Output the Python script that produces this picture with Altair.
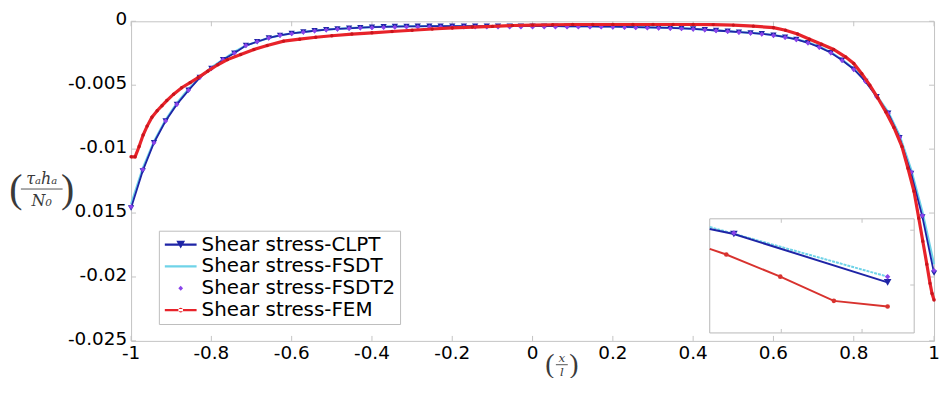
import altair as alt
import pandas as pd

# ---------------- data ----------------
x_main = [-1.0, -0.971, -0.943, -0.914, -0.886, -0.857, -0.829, -0.8, -0.771, -0.743,
          -0.714, -0.686, -0.657, -0.629, -0.6, -0.571, -0.543, -0.514, -0.486, -0.457,
          -0.429, -0.4, -0.371, -0.343, -0.314, -0.286, -0.257, -0.229, -0.2, -0.171,
          -0.143, -0.114, -0.086, -0.057, -0.029, 0.0, 0.029, 0.057, 0.086, 0.114,
          0.143, 0.171, 0.2, 0.229, 0.257, 0.286, 0.314, 0.343, 0.371, 0.4,
          0.429, 0.457, 0.486, 0.514, 0.543, 0.571, 0.6, 0.629, 0.657, 0.686,
          0.714, 0.743, 0.771, 0.8, 0.829, 0.857, 0.886, 0.914, 0.943, 0.971, 1.0]

clpt = [-0.0146, -0.0117, -0.0095, -0.0078, -0.0065, -0.0054, -0.0044, -0.0037, -0.0030, -0.0025,
        -0.0019, -0.0016, -0.0013, -0.0011, -0.00095, -0.00084, -0.00074, -0.00066, -0.0006, -0.00055,
        -0.0005, -0.00046, -0.00043, -0.00041, -0.0004, -0.00039, -0.00038, -0.00038, -0.00038, -0.00038,
        -0.00038, -0.00038, -0.00038, -0.00038, -0.00038, -0.00038, -0.00038, -0.00038, -0.00039, -0.0004,
        -0.0004, -0.00041, -0.00042, -0.00044, -0.00046, -0.00048, -0.0005, -0.00052, -0.00055, -0.0006,
        -0.00066, -0.00072, -0.00078, -0.00085, -0.00091, -0.00098, -0.00109, -0.00124, -0.00142, -0.00168,
        -0.00202, -0.00246, -0.00305, -0.00375, -0.0047, -0.0059, -0.0072, -0.0091, -0.0119, -0.0153, -0.0197]

fsdt = [-0.0143, -0.0115, -0.0094, -0.0077, -0.0064, -0.0053, -0.0044, -0.0036, -0.0030, -0.0024,
        -0.0019, -0.0016, -0.0013, -0.0011, -0.00094, -0.00083, -0.00073, -0.00065, -0.00059, -0.00054,
        -0.00049, -0.00045, -0.00042, -0.0004, -0.00039, -0.00038, -0.00037, -0.00037, -0.00037, -0.00037,
        -0.00037, -0.00037, -0.00037, -0.00037, -0.00037, -0.00037, -0.00037, -0.00037, -0.00038, -0.00039,
        -0.00039, -0.0004, -0.00041, -0.00043, -0.00045, -0.00047, -0.00049, -0.00051, -0.00054, -0.00059,
        -0.00065, -0.00071, -0.00077, -0.00084, -0.0009, -0.00097, -0.00107, -0.00122, -0.0014, -0.00165,
        -0.00198, -0.00241, -0.003, -0.0037, -0.0046, -0.0058, -0.0071, -0.0089, -0.0116, -0.0149, -0.0190]

fsdt2 = [-0.0145, -0.0116, -0.0095, -0.0078, -0.0065, -0.0054, -0.0044, -0.0037, -0.0030, -0.0025,
         -0.0019, -0.0016, -0.0013, -0.0011, -0.00097, -0.00086, -0.00076, -0.00068, -0.00062, -0.00057,
         -0.00053, -0.0005, -0.00048, -0.00046, -0.00045, -0.00044, -0.00044, -0.00044, -0.00044, -0.00044,
         -0.00044, -0.00044, -0.00044, -0.00044, -0.00044, -0.00044, -0.00044, -0.00044, -0.00044, -0.00044,
         -0.00044, -0.00045, -0.00046, -0.00048, -0.0005, -0.00052, -0.00054, -0.00056, -0.00059, -0.00063,
         -0.00068, -0.00074, -0.0008, -0.00087, -0.00094, -0.00101, -0.00112, -0.00127, -0.00145, -0.0017,
         -0.00204, -0.00248, -0.00307, -0.00378, -0.0047, -0.0059, -0.0072, -0.0091, -0.0118, -0.0152, -0.0195]

fem_x = [-1.0, -0.99, -0.98, -0.97, -0.96, -0.948, -0.935, -0.923, -0.911, -0.894,
         -0.874, -0.853, -0.833, -0.809, -0.784, -0.76, -0.727, -0.694, -0.661, -0.62,
         -0.58, -0.54, -0.5, -0.45, -0.4, -0.35, -0.3, -0.25, -0.2, -0.15,
         -0.1, -0.05, 0.0, 0.05, 0.1, 0.15, 0.2, 0.25, 0.3, 0.35,
         0.4, 0.45, 0.5, 0.55, 0.6, 0.63, 0.66, 0.69, 0.72, 0.75,
         0.78, 0.8, 0.82, 0.84, 0.86, 0.88, 0.9, 0.92, 0.935, 0.95,
         0.962, 0.972, 0.982, 0.99, 0.995, 1.0]
fem_y = [-0.0106, -0.0106, -0.0098, -0.0089, -0.0082, -0.0075, -0.0070, -0.0066, -0.0062, -0.0057,
         -0.0052, -0.0048, -0.0044, -0.0039, -0.0034, -0.0030, -0.0026, -0.0022, -0.0019, -0.00155,
         -0.0014, -0.00125, -0.00113, -0.001, -0.0009, -0.0008, -0.0007, -0.0006, -0.00052, -0.00045,
         -0.0004, -0.00033, -0.0003, -0.00027, -0.00025, -0.00025, -0.00025, -0.00025, -0.00025, -0.00025,
         -0.00025, -0.00026, -0.0003, -0.00038, -0.0005, -0.0007, -0.001, -0.0014, -0.0018, -0.0022,
         -0.0028, -0.0033, -0.0041, -0.005, -0.006, -0.0071, -0.0083, -0.0098, -0.0115, -0.0133,
         -0.0154, -0.0172, -0.019, -0.0205, -0.0213, -0.0218]

x_ticks = [-1.0, -0.8, -0.6, -0.4, -0.2, 0.0, 0.2, 0.4, 0.6, 0.8, 1.0]
x_tick_labels = ["-1", "-0.8", "-0.6", "-0.4", "-0.2", "0", "0.2", "0.4", "0.6", "0.8", "1"]
y_ticks = [0.0, -0.005, -0.01, -0.015, -0.02, -0.025]
y_tick_labels = ["0", "-0.005", "-0.01", "0.015", "-0.02", "-0.025"]

series_names = ["Shear stress-CLPT", "Shear stress-FSDT", "Shear stress-FSDT2", "Shear stress-FEM"]
series_colors = ["#1e24a6", "#6fd3e8", "#8a44ea", "#e8232a"]
legend_paths = [
    "M-1,-0.14H3V0.14H-1Z M0.45,-0.5L1.55,-0.5L1,0.5Z",
    "M-1,-0.14H3V0.14H-1Z",
    "M1,-0.32L1.3,0L1,0.32L0.7,0Z",
    "M-1,-0.14H3V0.14H-1Z M0.7,0A0.3,0.3 0 1,0 1.3,0A0.3,0.3 0 1,0 0.7,0Z",
]

# inset (zoomed detail), in its own unit box
inset_clpt_x = [0.0, 0.118, 0.870]
inset_clpt_y = [0.910, 0.867, 0.443]
inset_fsdt_x = [0.0, 0.870]
inset_fsdt_y = [0.928, 0.493]
inset_fsdt2_x = [0.118, 0.870]
inset_fsdt2_y = [0.876, 0.493]
inset_fem_x = [0.0, 0.081, 0.345, 0.607, 0.870]
inset_fem_y = [0.737, 0.687, 0.493, 0.281, 0.232]
inset_xticks = [0.35, 0.745]
inset_yticks = [0.42, 0.9]

# ---------------- chart ----------------
W, H = 809, 322
FONT = "DejaVu Sans"
C_CLPT, C_FSDT, C_FSDT2, C_FEM = series_colors
FRAME = "#c4c4c4"

xs = alt.Scale(domain=[-1, 1], nice=False, zero=False)
ys = alt.Scale(domain=[-0.025, 0], nice=False, zero=False)

df_clpt = pd.DataFrame({"x": x_main, "y": clpt})
df_fsdt = pd.DataFrame({"x": x_main, "y": fsdt})
df_fsdt2 = pd.DataFrame({"x": x_main, "y": fsdt2})
df_fem = pd.DataFrame({"x": fem_x, "y": fem_y})

X = alt.X("x:Q", scale=xs, axis=None)
Y = alt.Y("y:Q", scale=ys, axis=None)

fsdt_line = alt.Chart(df_fsdt).mark_line(color=C_FSDT, strokeWidth=2.2).encode(x=X, y=Y)
clpt_line = alt.Chart(df_clpt).mark_line(color=C_CLPT, strokeWidth=1.8).encode(x=X, y=Y)
clpt_pts = alt.Chart(df_clpt).mark_point(shape="triangle-down", filled=True, size=40,
                                         color=C_CLPT, opacity=1).encode(x=X, y=Y)
fsdt2_pts = alt.Chart(df_fsdt2).mark_point(shape="diamond", filled=True, size=26,
                                           color=C_FSDT2, opacity=1).encode(x=X, y=Y)
fem_line = alt.Chart(df_fem).mark_line(color=C_FEM, strokeWidth=3.2).encode(x=X, y=Y)
fem_pts = alt.Chart(df_fem).mark_point(shape="circle", filled=True, size=12,
                                       color="#c8141c", opacity=1).encode(x=X, y=Y)

# tick marks (inward) and tick labels, placed through the scales
df_xt = pd.DataFrame({"t": x_ticks, "lab": x_tick_labels})
df_yt = pd.DataFrame({"t": y_ticks, "lab": y_tick_labels})
XT = alt.X("t:Q", scale=xs, axis=None)
YT = alt.Y("t:Q", scale=ys, axis=None)
tk = dict(color=FRAME, strokeWidth=1)
ticks = [
    alt.Chart(df_xt).mark_rule(**tk).encode(x=XT, y=alt.value(H), y2=alt.value(H - 5)),
    alt.Chart(df_xt).mark_rule(**tk).encode(x=XT, y=alt.value(0), y2=alt.value(5)),
    alt.Chart(df_yt).mark_rule(**tk).encode(y=YT, x=alt.value(0), x2=alt.value(5)),
    alt.Chart(df_yt).mark_rule(**tk).encode(y=YT, x=alt.value(W), x2=alt.value(W - 5)),
]
tick_labels = [
    alt.Chart(df_xt).mark_text(font=FONT, fontSize=18.5, color="#000", align="center",
                               baseline="middle").encode(x=XT, y=alt.value(H + 12), text="lab:N"),
    alt.Chart(df_yt).mark_text(font=FONT, fontSize=18.5, color="#000", align="right",
                               baseline="middle", dy=-2).encode(y=YT, x=alt.value(-4), text="lab:N"),
]

# legend (entries from explicit scale domain; no marks drawn)
leg = alt.Legend(title=None, orient="none", legendX=28, legendY=211, labelFont=FONT,
                 labelFontSize=20, labelColor="#000", labelLimit=400, symbolSize=256,
                 symbolStrokeWidth=0, labelOffset=19, padding=4, rowPadding=2,
                 fillColor="white", strokeColor="#bdbdbd")
legend_layer = alt.Chart(pd.DataFrame({"series": series_names})).transform_filter("false").mark_point(
    filled=True, opacity=1).encode(
    color=alt.Color("series:N", scale=alt.Scale(domain=series_names, range=series_colors), legend=leg),
    shape=alt.Shape("series:N", scale=alt.Scale(domain=series_names, range=legend_paths), legend=leg),
)

# axis titles drawn as small formula pieces
one = pd.DataFrame({"k": [0]})


def txt(s, px, py, size, font="DejaVu Serif", style="italic", color="#3a3a3a"):
    return alt.Chart(one).mark_text(text=s, font=font, fontSize=size, fontStyle=style, color=color,
                                    align="center", baseline="middle").encode(x=alt.value(px), y=alt.value(py))


ytitle = [
    txt("(", -116, 170, 40, font="Liberation Serif", style="normal"),
    txt(")", -64, 170, 40, font="Liberation Serif", style="normal"),
    txt("τₐhₐ", -90, 159, 16),
    txt("N₀", -90, 181, 16),
    alt.Chart(one).mark_rule(color="#555", strokeWidth=1).encode(
        x=alt.value(-111), x2=alt.value(-69), y=alt.value(169)),
]
xtitle = [
    txt("(", 422, 346, 28, font="Liberation Serif", style="normal"),
    txt(")", 446, 346, 28, font="Liberation Serif", style="normal"),
    txt("x", 434, 339, 12),
    txt("l", 434, 353, 12),
    alt.Chart(one).mark_rule(color="#555", strokeWidth=1).encode(
        x=alt.value(428), x2=alt.value(440), y=alt.value(346)),
]

main = alt.layer(fsdt_line, *ticks, clpt_line, clpt_pts, fsdt2_pts, fem_line, fem_pts,
                 *tick_labels, legend_layer, *ytitle, *xtitle)

# inset
xi = alt.Scale(domain=[0, 1], range=[583, 789], nice=False, zero=False)
yi = alt.Scale(domain=[0, 1], range=[314, 199], nice=False, zero=False)
XI = alt.X("x:Q", scale=xi, axis=None)
YI = alt.Y("y:Q", scale=yi, axis=None)

inset_frame = alt.Chart(pd.DataFrame({"x0": [0], "x1": [1], "y0": [0], "y1": [1]})).mark_rect(
    fill="white", stroke="#b8b8b8", strokeWidth=1).encode(
    x=alt.X("x0:Q", scale=xi, axis=None), x2="x1:Q", y=alt.Y("y0:Q", scale=yi, axis=None), y2="y1:Q")
d_ixt = pd.DataFrame({"t": inset_xticks})
d_iyt = pd.DataFrame({"t": inset_yticks})
inset_ticks = [
    alt.Chart(d_ixt).mark_rule(color="#c4c4c4").encode(x=alt.X("t:Q", scale=xi, axis=None), y=alt.value(199), y2=alt.value(203)),
    alt.Chart(d_ixt).mark_rule(color="#c4c4c4").encode(x=alt.X("t:Q", scale=xi, axis=None), y=alt.value(314), y2=alt.value(310)),
    alt.Chart(d_iyt).mark_rule(color="#c4c4c4").encode(y=alt.Y("t:Q", scale=yi, axis=None), x=alt.value(789), x2=alt.value(785)),
]
di_clpt = pd.DataFrame({"x": inset_clpt_x, "y": inset_clpt_y})
di_fsdt = pd.DataFrame({"x": inset_fsdt_x, "y": inset_fsdt_y})
di_fsdt2 = pd.DataFrame({"x": inset_fsdt2_x, "y": inset_fsdt2_y})
di_fem = pd.DataFrame({"x": inset_fem_x, "y": inset_fem_y})

inset = alt.layer(
    inset_frame, *inset_ticks,
    alt.Chart(di_fsdt).mark_line(color=C_FSDT, strokeWidth=2, strokeDash=[3, 1]).encode(x=XI, y=YI),
    alt.Chart(di_clpt).mark_line(color=C_CLPT, strokeWidth=2).encode(x=XI, y=YI),
    alt.Chart(di_clpt).transform_filter("datum.x > 0").mark_point(
        shape="triangle-down", filled=True, size=60, color=C_CLPT, opacity=1).encode(x=XI, y=YI),
    alt.Chart(di_fsdt2).mark_point(shape="diamond", filled=True, size=30, color=C_FSDT2,
                                   opacity=1).encode(x=XI, y=YI),
    alt.Chart(di_fem).mark_line(color="#d8322e", strokeWidth=2).encode(x=XI, y=YI),
    alt.Chart(di_fem).transform_filter("datum.x > 0").mark_point(
        shape="circle", filled=True, size=22, color="#d8322e", opacity=1).encode(x=XI, y=YI),
)

chart = alt.layer(main, inset).resolve_scale(x="independent", y="independent").properties(
    width=W, height=H,
    autosize=alt.AutoSizeParams(type="none"),
    padding={"left": 124, "top": 12, "right": 6, "bottom": 36},
    background="white",
).configure_view(stroke=FRAME, strokeWidth=1)

chart.save("out.html", embed_options={"renderer": "svg", "actions": False})
